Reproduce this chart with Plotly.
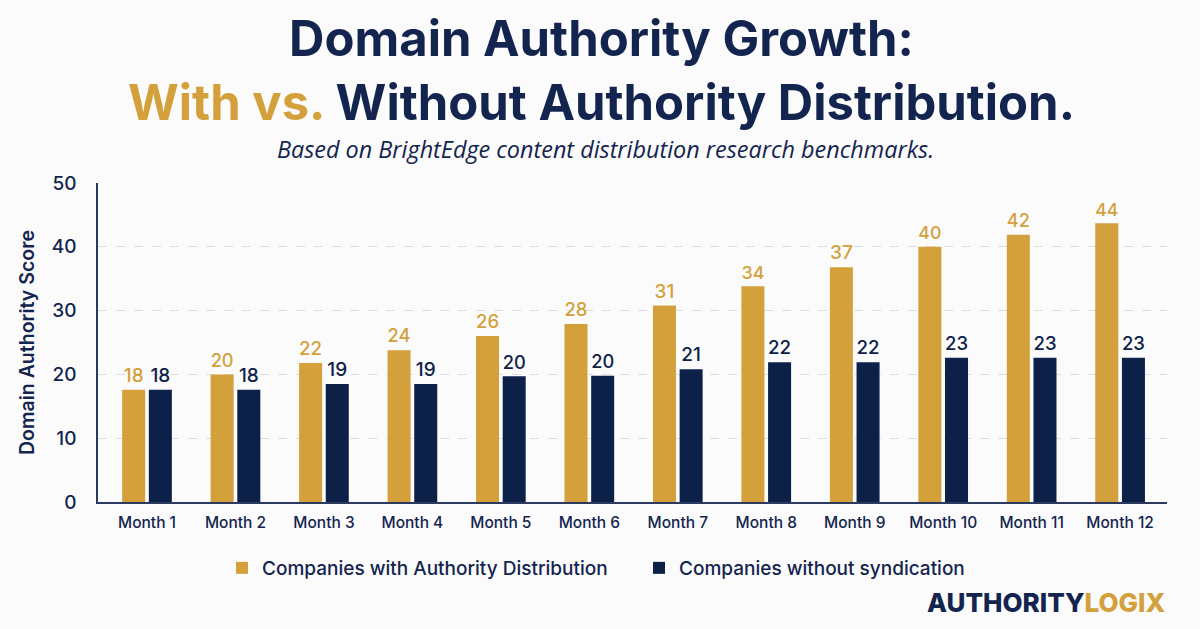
import plotly.graph_objects as go

months = ["Month 1", "Month 2", "Month 3", "Month 4", "Month 5", "Month 6",
          "Month 7", "Month 8", "Month 9", "Month 10", "Month 11", "Month 12"]
with_dist = [17.6, 20.0, 21.8, 23.8, 26.0, 27.9, 30.8, 33.8, 36.8, 40.0, 41.9, 43.7]
without_synd = [17.6, 17.6, 18.5, 18.5, 19.7, 19.8, 20.8, 21.9, 21.9, 22.6, 22.6, 22.6]
y_ticks = [0, 10, 20, 30, 40, 50]

GOLD = "#D3A03B"
NAVY = "#0D2148"
TXT = "#13244E"
BG = "#FBFBFC"

def lab(vals):
    return [str(int(v + 0.5)) for v in vals]

fig = go.Figure()
fig.add_trace(go.Bar(
    x=months, y=with_dist, name="Companies with Authority Distribution",
    marker=dict(color=GOLD, line=dict(width=0)),
    text=lab(with_dist), textposition="outside", cliponaxis=False,
    textfont=dict(color=GOLD, size=19, family="Inter", weight=500),
))
fig.add_trace(go.Bar(
    x=months, y=without_synd, name="Companies without syndication",
    marker=dict(color=NAVY, line=dict(width=0)),
    text=lab(without_synd), textposition="outside", cliponaxis=False,
    textfont=dict(color=NAVY, size=19, family="Inter", weight=500),
))

H_PLOT = 629 - 183 - 127
def py(p):
    return (502 - p) / H_PLOT

fig.update_layout(
    width=1200, height=629,
    margin=dict(l=98, r=33, t=183, b=127),
    paper_bgcolor=BG, plot_bgcolor=BG,
    barmode="group", bargap=0.397, bargroupgap=0.137,
    font=dict(family="Inter", color=TXT),
    showlegend=True,
    legend=dict(orientation="h", x=(639 - 98) / 1069, xanchor="center", y=py(568), yanchor="middle",
                font=dict(size=19, color=TXT, family="Inter", weight=500),
                itemsizing="constant", traceorder="normal", entrywidth=372,
                bgcolor="rgba(0,0,0,0)", itemclick=False, itemwidth=30),
    xaxis=dict(
        type="category", range=[-0.554, 11.53],
        showgrid=False, showline=True, linecolor="#2B3A5E", linewidth=1.5,
        ticks="", tickfont=dict(size=15.5, color=TXT, family="Inter", weight=500),
        ticklabelstandoff=6, fixedrange=True,
    ),
    yaxis=dict(
        range=[0, 50], tickvals=y_ticks, ticks="",
        showgrid=True, gridcolor="#DADDE3", griddash="dash", gridwidth=1,
        showline=True, linecolor="#2B3A5E", linewidth=1.5, zeroline=False,
        tickfont=dict(size=19, color=TXT, family="Inter", weight=500),
        ticklabelstandoff=16,
        title=dict(text="Domain Authority Score", standoff=12,
                   font=dict(size=19.5, color=TXT, family="Inter", weight=600)),
        fixedrange=True,
    ),
)

fig.add_annotation(
    xref="paper", yref="paper", x=(601 - 98) / 1069, y=py(70), xanchor="center", yanchor="middle",
    text=f"Domain Authority Growth:<br><span style='color:{GOLD}'>With vs.</span> Without Authority Distribution.",
    showarrow=False,
    font=dict(size=49, color=TXT, family="Inter", weight=700),
)
fig.add_annotation(
    xref="paper", yref="paper", x=(605 - 98) / 1069, y=py(149), xanchor="center", yanchor="middle",
    text="<i>Based on BrightEdge content distribution research benchmarks.</i>", showarrow=False,
    font=dict(size=23.4, color=TXT, family="Open Sans"),
)
fig.add_annotation(
    xref="paper", yref="paper", x=(1168 - 98) / 1069, y=py(602), xanchor="right", yanchor="middle",
    text=f"AUTHORITY<span style='color:{GOLD}'>LOGIX</span>", showarrow=False,
    font=dict(size=26, color=TXT, family="Inter", weight=800),
)

fig.write_html("out.html")
